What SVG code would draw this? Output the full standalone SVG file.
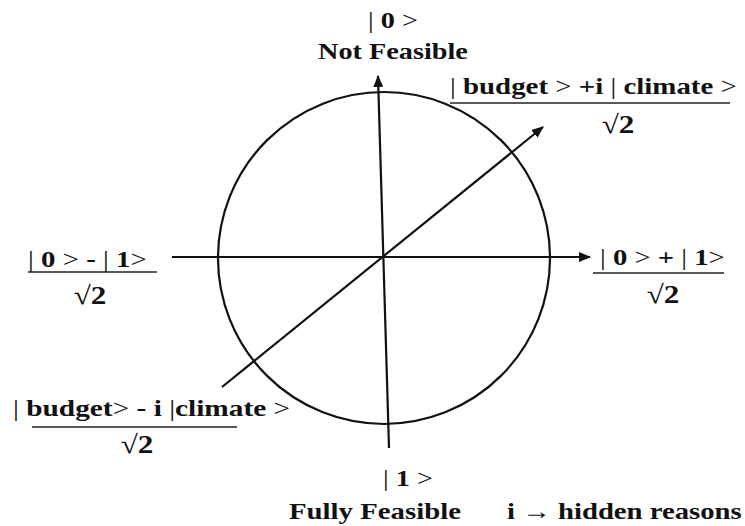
<svg xmlns="http://www.w3.org/2000/svg" width="745" height="526" viewBox="0 0 745 526">
<style>
text{font-family:"Liberation Serif","Times New Roman",serif;font-size:24px;fill:#111;font-weight:bold}
.n{font-weight:normal}
.sq{font-size:26px;text-anchor:middle}
.ln{stroke:#111;stroke-width:2.2;fill:none}
.fr{stroke:#222;stroke-width:1.6}
</style>
<defs>
<marker id="ah" viewBox="0 0 12 10" refX="11" refY="5" markerWidth="12" markerHeight="10" markerUnits="userSpaceOnUse" orient="auto">
<path d="M0,0 L12,5 L0,10 Z" fill="#111"/>
</marker>
</defs>
<rect width="745" height="526" fill="#fff"/>
<g id="circle"><circle cx="384" cy="258" r="166" class="ln"/></g>
<g id="connectors">
<line x1="172" y1="257" x2="590" y2="257" class="ln" marker-end="url(#ah)"/>
<line x1="389" y1="448" x2="378" y2="76" class="ln" marker-end="url(#ah)"/>
<line x1="222" y1="387" x2="543" y2="127" class="ln" marker-end="url(#ah)"/>
</g>
<g id="top">
<text transform="translate(368,28) scale(1.17,1)" textLength="42.7" lengthAdjust="spacingAndGlyphs"><tspan class="n">|</tspan> 0 <tspan class="n">&gt;</tspan></text>
<text transform="translate(318,59) scale(1.18,1)" textLength="127" lengthAdjust="spacingAndGlyphs">Not Feasible</text>
</g>
<g id="diag-pos">
<text transform="translate(450,94) scale(1.2,1)" textLength="239" lengthAdjust="spacingAndGlyphs"><tspan class="n">|</tspan> budget <tspan class="n">&gt;</tspan> +i <tspan class="n">|</tspan> climate <tspan class="n">&gt;</tspan></text>
<line x1="450" y1="103" x2="730" y2="103" class="fr"/>
<text class="sq" transform="translate(618,133) scale(1.2,1)"><tspan class="n">√</tspan>2</text>
</g>
<g id="minus">
<text transform="translate(28,267) scale(1.2,1)" textLength="99" lengthAdjust="spacingAndGlyphs"><tspan class="n">|</tspan> 0 <tspan class="n">&gt;</tspan> - <tspan class="n">|</tspan> 1<tspan class="n">&gt;</tspan></text>
<line x1="28" y1="272" x2="157" y2="272" class="fr"/>
<text class="sq" transform="translate(90,304) scale(1.2,1)"><tspan class="n">√</tspan>2</text>
</g>
<g id="plus">
<text transform="translate(600,265) scale(1.2,1)" textLength="104" lengthAdjust="spacingAndGlyphs"><tspan class="n">|</tspan> 0 <tspan class="n">&gt;</tspan> + <tspan class="n">|</tspan> 1<tspan class="n">&gt;</tspan></text>
<line x1="593" y1="273" x2="724" y2="273" class="fr"/>
<text class="sq" transform="translate(663,303) scale(1.2,1)"><tspan class="n">√</tspan>2</text>
</g>
<g id="diag-neg">
<text transform="translate(13,416) scale(1.2,1)" textLength="231" lengthAdjust="spacingAndGlyphs"><tspan class="n">|</tspan> budget<tspan class="n">&gt;</tspan> - i <tspan class="n">|</tspan>climate <tspan class="n">&gt;</tspan></text>
<line x1="32" y1="427" x2="237" y2="427" class="fr"/>
<text class="sq" transform="translate(137,453) scale(1.2,1)"><tspan class="n">√</tspan>2</text>
</g>
<g id="bottom">
<text transform="translate(383,486) scale(1.17,1)" textLength="42.7" lengthAdjust="spacingAndGlyphs"><tspan class="n">|</tspan> 1 <tspan class="n">&gt;</tspan></text>
<text transform="translate(289,519) scale(1.15,1)" font-size="25" textLength="149.6" lengthAdjust="spacingAndGlyphs">Fully Feasible</text>
<text transform="translate(507,519) scale(1.15,1)" font-size="25" textLength="204" lengthAdjust="spacingAndGlyphs">i → hidden reasons</text>
</g>
</svg>
